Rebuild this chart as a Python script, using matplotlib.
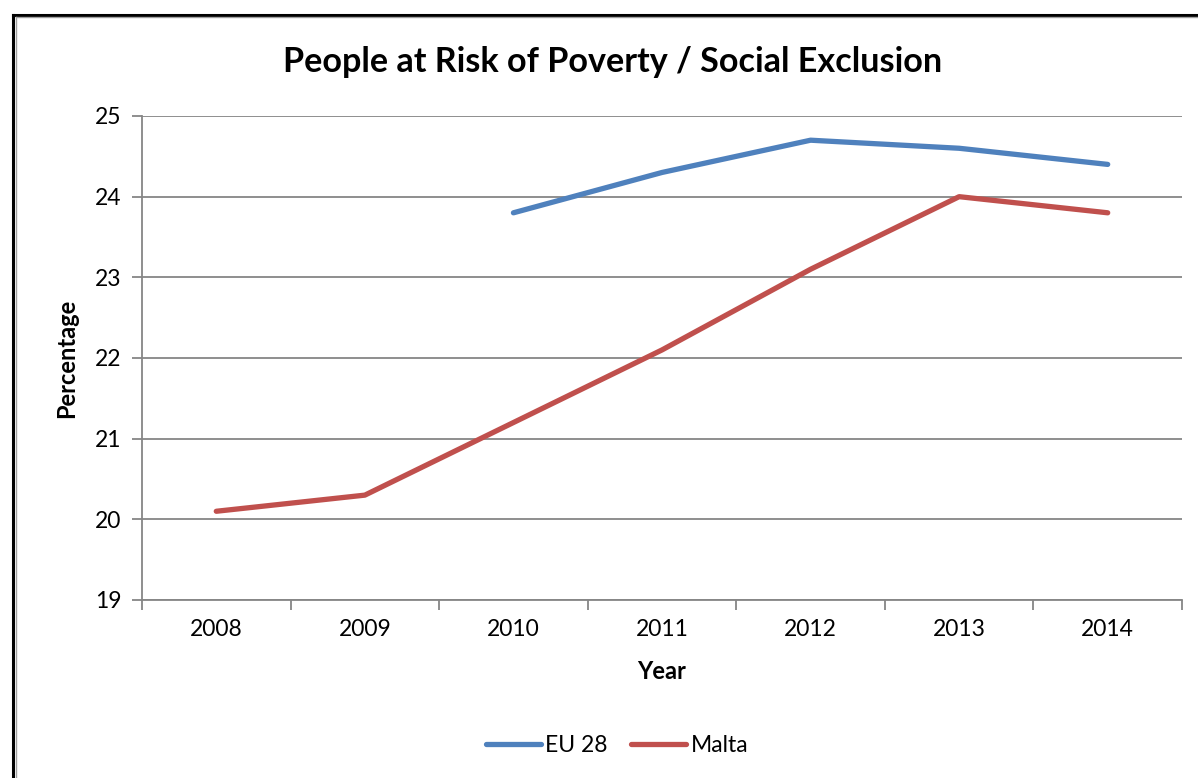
import matplotlib
matplotlib.use("Agg")
import matplotlib.pyplot as plt
import numpy as np
from matplotlib.lines import Line2D

plt.rcParams['font.family'] = ['Lato', 'DejaVu Sans']

years = ["2008", "2009", "2010", "2011", "2012", "2013", "2014"]
eu28 = [np.nan, np.nan, 23.8, 24.3, 24.7, 24.6, 24.4]
malta = [20.1, 20.3, 21.2, 22.1, 23.1, 24.0, 23.8]

BLUE = "#4F81BD"
RED = "#C0504D"
GRID = "#868686"

fig = plt.figure(figsize=(11.98, 7.78), dpi=100)
ax = fig.add_axes([142 / 1198, 1 - 600 / 778, 1040 / 1198, 484 / 778])

x = np.arange(len(years))
ax.plot(x, eu28, color=BLUE, lw=3.8, solid_capstyle="round", label="EU 28")
ax.plot(x, malta, color=RED, lw=3.8, solid_capstyle="round", label="Malta")

ax.set_xlim(-0.5, len(years) - 0.5)
ax.set_ylim(19, 25)
ax.set_yticks(range(19, 26))
ax.set_xticks(x)
ax.set_xticklabels(years)
ax.set_xticks(np.arange(-0.5, len(years)), minor=True)
ax.tick_params(axis="x", which="major", length=0, pad=14, labelsize=16.5)
ax.tick_params(axis="x", which="minor", length=7, width=1.3, color=GRID, direction="out")
ax.tick_params(axis="y", length=7, width=1.3, color=GRID, pad=8, labelsize=16.5)
ax.grid(axis="y", color=GRID, lw=1.3)
ax.set_axisbelow(True)
for s in ["top", "right"]:
    ax.spines[s].set_visible(False)
for s in ["left", "bottom"]:
    ax.spines[s].set_color(GRID)
    ax.spines[s].set_linewidth(1.3)

ax.set_xlabel("Year", fontsize=17, fontweight="bold", labelpad=14)
ax.set_ylabel("Percentage", fontsize=17, fontweight="bold", labelpad=12)
fig.text(613 / 1198, 1 - 62 / 778, "People at Risk of Poverty / Social Exclusion",
         ha="center", va="center", fontsize=24.6, fontweight="bold")

handles = [Line2D([], [], color=BLUE, lw=3.8, solid_capstyle="round"),
           Line2D([], [], color=RED, lw=3.8, solid_capstyle="round")]
fig.legend(handles, ["EU 28", "Malta"], loc="center", bbox_to_anchor=(617 / 1198, 1 - 746 / 778),
           ncol=2, frameon=False, fontsize=16.5, handlelength=2.4, handletextpad=0.2,
           columnspacing=1.0)

# outer frame (left and top edges only are visible)
fig.add_artist(Line2D([13 / 1198, 13 / 1198], [0, 1 - 15 / 778], color="black", lw=2.2,
                      transform=fig.transFigure))
fig.add_artist(Line2D([13 / 1198, 1], [1 - 15 / 778, 1 - 15 / 778], color="black", lw=2.2,
                      transform=fig.transFigure))
fig.add_artist(Line2D([16 / 1198, 16 / 1198], [0, 1 - 17 / 778], color="#A0A0A0", lw=1,
                      transform=fig.transFigure))
fig.add_artist(Line2D([16 / 1198, 1], [1 - 17 / 778, 1 - 17 / 778], color="#A0A0A0", lw=1,
                      transform=fig.transFigure))

fig.savefig("out.png", dpi=100)
